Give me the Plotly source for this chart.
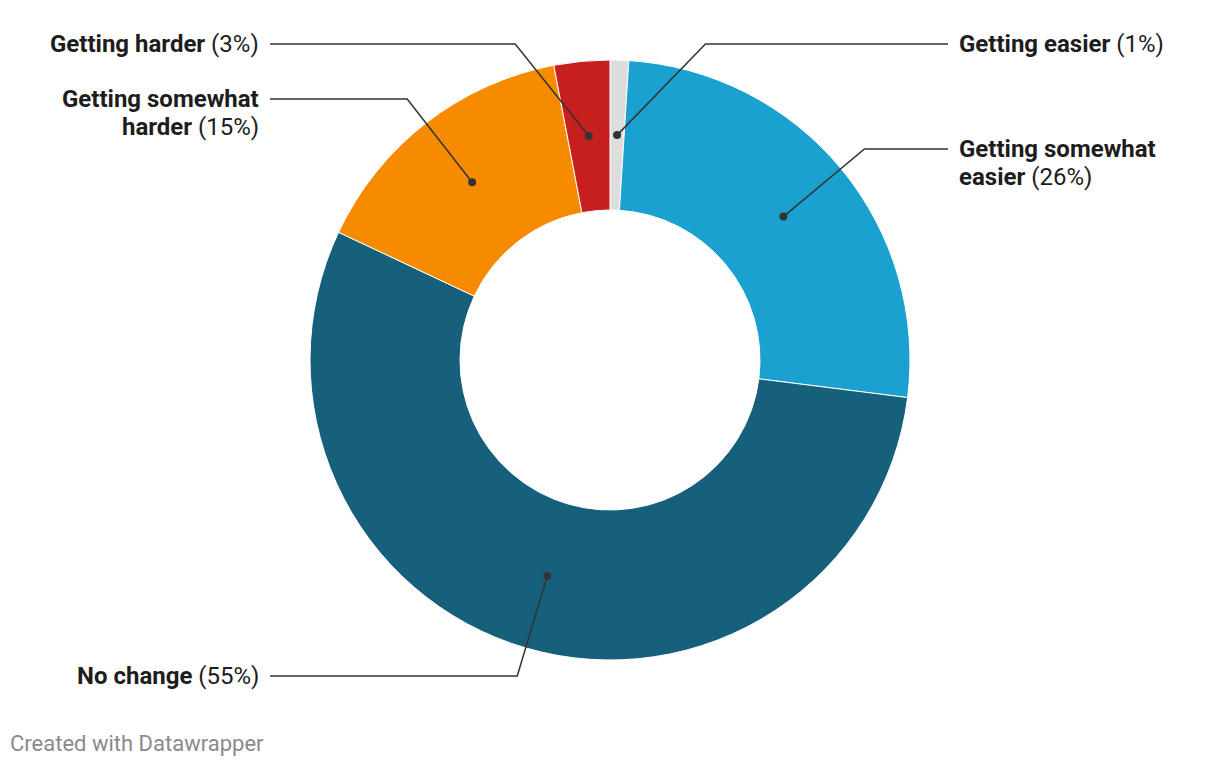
import math
import plotly.graph_objects as go

# ---- data ----
categories = ["Getting easier", "Getting somewhat easier", "No change",
              "Getting somewhat harder", "Getting harder"]
values = [1, 26, 55, 15, 3]
label_lines = [["Getting easier"], ["Getting somewhat", "easier"], ["No change"],
               ["Getting somewhat", "harder"], ["Getting harder"]]
colors = ["#dddddd", "#1aa1cf", "#17607c", "#f68b00", "#c71e1e"]

# ---- layout constants (pixels) ----
W, H = 1220, 766
CX, CY, R = 610, 360, 300
HOLE = 0.5
DOT_R = 0.75 * R  # dots at middle of the ring
label_side = [1, 1, -1, -1, -1]
label_y = [44, 149, 676, 99, 44]
elbow_slope = [0.97, 1.2, 0.3, 0.78, 0.8]  # horizontal run per unit of vertical rise
LABEL_X_RIGHT = 948
LABEL_X_LEFT = 270
TEXT_GAP = 9
LINE_H = 28


def px(x):
    return x / W


def py(y):
    return 1 - y / H


fig = go.Figure(go.Pie(
    labels=categories, values=values, sort=False, direction="clockwise",
    rotation=0, hole=HOLE, textinfo="none", hoverinfo="label+percent",
    marker=dict(colors=colors, line=dict(color="white", width=1)),
    domain=dict(x=[px(CX - R), px(CX + R)], y=[py(CY + R), py(CY - R)]),
    showlegend=False,
))

total = sum(values)
cum = 0
shapes = []
annotations = []
for i, v in enumerate(values):
    mid = (cum + v / 2) / total * 2 * math.pi
    cum += v
    dx_ = CX + DOT_R * math.sin(mid)
    dy_ = CY - DOT_R * math.cos(mid)
    ly = label_y[i]
    side = label_side[i]
    ex = dx_ + side * abs(ly - dy_) * elbow_slope[i]
    endx = LABEL_X_RIGHT if side > 0 else LABEL_X_LEFT
    path = f"M {px(dx_)},{py(dy_)} L {px(ex)},{py(ly)} L {px(endx)},{py(ly)}"
    shapes.append(dict(type="path", path=path, xref="paper", yref="paper",
                       line=dict(color="#333333", width=1.5)))
    shapes.append(dict(type="circle", xref="paper", yref="paper",
                       x0=px(dx_ - 4), x1=px(dx_ + 4), y0=py(dy_ + 4), y1=py(dy_ - 4),
                       fillcolor="#333333", line=dict(width=0)))
    lines = label_lines[i]
    for j, l in enumerate(lines):
        t = f"<b>{l}</b>"
        if j == len(lines) - 1:
            t += f" ({v}%)"
        annotations.append(dict(
            text=t, xref="paper", yref="paper",
            x=px(endx + side * TEXT_GAP), y=py(ly + j * LINE_H),
            xanchor="left" if side > 0 else "right", yanchor="middle",
            showarrow=False,
            font=dict(family="Roboto", size=24, color="#1d1d1d"),
        ))

annotations.append(dict(
    text="Created with Datawrapper", xref="paper", yref="paper",
    x=px(8), y=py(743), xanchor="left", yanchor="middle", showarrow=False,
    font=dict(family="Roboto", size=22, color="#8a8a8a"),
))

fig.update_layout(
    width=W, height=H, margin=dict(l=0, r=0, t=0, b=0),
    paper_bgcolor="white", plot_bgcolor="white",
    shapes=shapes, annotations=annotations,
    font=dict(family="Roboto"),
)
fig.write_html("out.html")
